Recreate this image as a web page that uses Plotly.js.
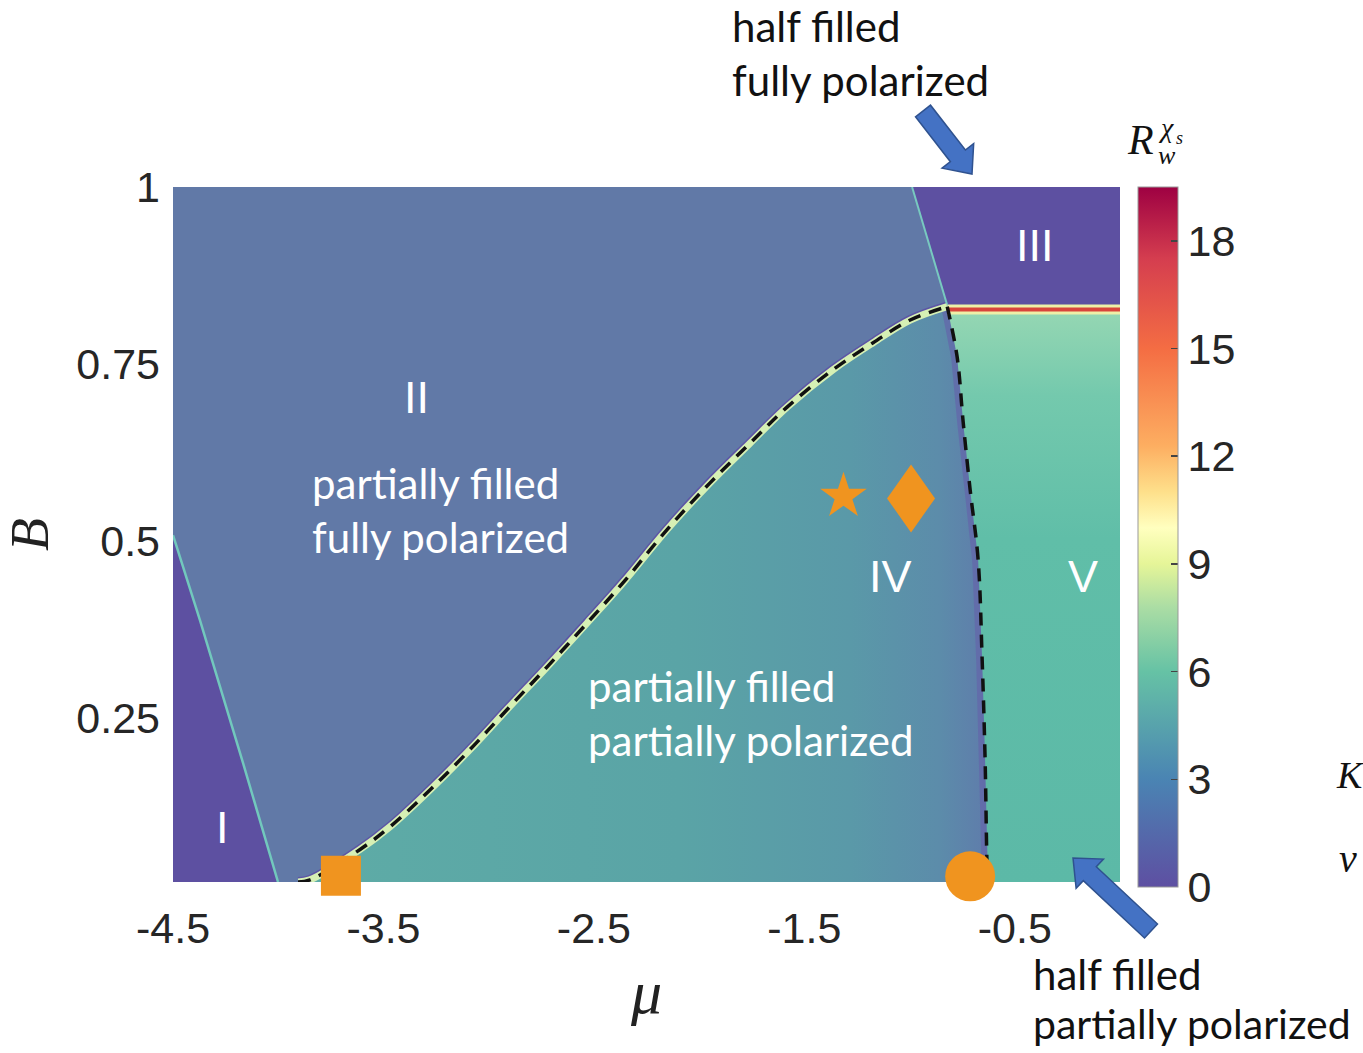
<!DOCTYPE html>
<html><head><meta charset="utf-8">
<script src="https://cdn.plot.ly/plotly-3.0.1.min.js"></script>
<style>html,body{margin:0;padding:0;background:#fff}#chart{width:1363px;height:1053px}</style>
</head><body><div id="chart"></div>
<script>
// ---------------- data ----------------
const xRange = [-4.5, 0];
const yRange = [0.018, 1.0];
const xTickVals = [-4.5, -3.5, -2.5, -1.5, -0.5];
const xTickText = ['-4.5', '-3.5', '-2.5', '-1.5', '-0.5'];
const yTickVals = [0.25, 0.5, 0.75, 1];
const yTickText = ['0.25', '0.5', '0.75', '1'];
const cbTickVals = [0, 3, 6, 9, 12, 15, 18];
const cbMax = 19.5;

// phase boundaries (mu, B)
const muBoundaryI_II = [-4.5, -4.372, -4.167, -4.001];
const bBoundaryI_II  = [0.508, 0.388, 0.186, 0.018];
const muBoundaryII_III = [-0.988, -0.821];
const bBoundaryII_III  = [1.0, 0.833];
const muBoundaryII_IV = [-3.906, -3.849, -3.611, -3.469, -3.279, -3.089, -2.899, -2.722, -2.532, -2.361, -2.152, -1.948, -1.758, -1.582, -1.363, -1.173, -0.997, -0.821];
const bBoundaryII_IV  = [0.018, 0.021, 0.064, 0.096, 0.148, 0.205, 0.266, 0.322, 0.384, 0.441, 0.516, 0.582, 0.638, 0.689, 0.742, 0.780, 0.812, 0.831];
const muBoundaryIV_V = [-0.821, -0.774, -0.745, -0.712, -0.674, -0.655, -0.641, -0.631, -0.627];
const bBoundaryIV_V  = [0.831, 0.760, 0.667, 0.572, 0.473, 0.332, 0.191, 0.035, 0.018];
const bBoundaryIII_V = 0.827;

// special points
const pointSymbols = ['square', 'circle', 'star', 'diamond'];
const pointMu = [-3.702, -0.712, -1.314, -0.993];
const pointB  = [0.027, 0.026, 0.563, 0.560];

// ---------------- styling ----------------
const ORANGE = '#f0941f';
const C_II = '#6179a7';
const C_PURPLE = '#5d50a1';
const SPECTRAL = [
  [0, '#5e4fa2'], [0.154, '#4a84b3'], [0.308, '#66c2a5'], [0.40, '#abdda4'],
  [0.462, '#e6f598'], [0.513, '#ffffbf'], [0.564, '#fee08b'], [0.63, '#fdae61'],
  [0.769, '#f46d43'], [0.897, '#d53e4f'], [1, '#9e0142']
];
const L = 173, R = 1120, T = 187, Bt = 882;
const PW = R - L, PH = Bt - T;
const px = x => (x - L) / PW;
const py = y => (Bt - y) / PH;

const traces = [];
const base = {type:'scatter', mode:'lines', hoverinfo:'skip', showlegend:false};

// Region I
traces.push(Object.assign({}, base, {
  x: muBoundaryI_II.concat([xRange[0]]), y: bBoundaryI_II.concat([yRange[0]]),
  fill:'toself', fillcolor:C_PURPLE, line:{width:0}}));
// Region III
traces.push(Object.assign({}, base, {
  x: muBoundaryII_III.concat([xRange[1], xRange[1]]), y: bBoundaryII_III.concat([bBoundaryIII_V, yRange[1]]),
  fill:'toself', fillcolor:C_PURPLE, line:{width:0}}));
// purple rim along II/IV (upper half stays visible)
traces.push(Object.assign({}, base, {
  x: muBoundaryII_IV, y: bBoundaryII_IV, line:{color:'#5d55a5', width:10, shape:'spline'}}));
// Region IV
traces.push(Object.assign({}, base, {
  x: muBoundaryII_IV.concat(muBoundaryIV_V.slice(1)), y: bBoundaryII_IV.concat(bBoundaryIV_V.slice(1)),
  fill:'toself', line:{width:0},
  fillgradient:{type:'horizontal', start:-3.9, stop:-0.63,
    colorscale:[[0,'#5eaca6'],[0.55,'#5aa4a6'],[0.8,'#5a99a8'],[0.93,'#5c8caa'],[1,'#5f7cab']]}}));
// darker rim left of IV/V
traces.push(Object.assign({}, base, {
  x: muBoundaryIV_V, y: bBoundaryIV_V, line:{color:'#6466aa', width:12}, opacity:0.7}));
// Region V
traces.push(Object.assign({}, base, {
  x: muBoundaryIV_V.concat([xRange[1], xRange[1]]), y: bBoundaryIV_V.concat([yRange[0], bBoundaryIII_V]),
  fill:'toself', line:{width:0},
  fillgradient:{type:'vertical', start:yRange[0], stop:bBoundaryIII_V,
    colorscale:[[0,'#5cb9a7'],[0.6,'#60bea8'],[0.85,'#74c9ad'],[1,'#96d7b3']]}}));
// III/V stripe
const stripeX = [muBoundaryIV_V[0], xRange[1]];
const stripeY = [bBoundaryIII_V, bBoundaryIII_V];
traces.push(Object.assign({}, base, {x: stripeX, y: stripeY, line:{color:'#eef0a8', width:10}}));
traces.push(Object.assign({}, base, {x: stripeX, y: stripeY, line:{color:'#d9443c', width:4}}));
// cyan boundaries
traces.push(Object.assign({}, base, {x: muBoundaryI_II, y: bBoundaryI_II, line:{color:'#72c8bd', width:2.5}}));
traces.push(Object.assign({}, base, {x: muBoundaryII_III, y: bBoundaryII_III, line:{color:'#78c9c0', width:2}}));
// light rim + dashed lines
traces.push(Object.assign({}, base, {x: muBoundaryII_IV, y: bBoundaryII_IV, line:{color:'#d6f0b4', width:7, shape:'spline'}}));
traces.push(Object.assign({}, base, {x: muBoundaryII_IV, y: bBoundaryII_IV, line:{color:'#111', width:3.5, dash:'13px,9px', shape:'spline'}}));
traces.push(Object.assign({}, base, {x: muBoundaryIV_V, y: bBoundaryIV_V, line:{color:'#111', width:3.5, dash:'13px,9px', shape:'spline'}}));
// special points (square, circle, star); diamond drawn as a shape below
const sizes = {square:40, circle:50, star:35};
['square','circle','star'].forEach(s => {
  const i = pointSymbols.indexOf(s);
  traces.push({type:'scatter', mode:'markers', hoverinfo:'skip', showlegend:false, cliponaxis:false,
    x:[pointMu[i]], y:[pointB[i]], marker:{symbol:s, size:sizes[s], color:ORANGE, line:{width:0}}});
});
// colorbar
traces.push({type:'scatter', mode:'markers', hoverinfo:'skip', showlegend:false,
  x:[null], y:[null],
  marker:{color:[0], cmin:0, cmax:cbMax, colorscale:SPECTRAL, showscale:true,
    colorbar:{x:px(1138), xanchor:'left', y:1, yanchor:'top', len:700, lenmode:'pixels',
      thickness:40, thicknessmode:'pixels', outlinewidth:1, outlinecolor:'#999', xpad:0, ypad:0,
      tickmode:'array', tickvals:cbTickVals, ticks:'inside', ticklen:7, tickwidth:1.5, tickcolor:'#444',
      tickfont:{family:'Liberation Sans, Arial, sans-serif', size:43, color:'#262626'}}}});

function blockArrow(tx, ty, hx, hy, sw, hw, hl){
  const dx = hx - tx, dy = hy - ty, len = Math.hypot(dx, dy);
  const ux = dx/len, uy = dy/len, nx = -uy, ny = ux;
  const bx = hx - ux*hl, by = hy - uy*hl;
  const pts = [[tx+nx*sw,ty+ny*sw],[bx+nx*sw,by+ny*sw],[bx+nx*hw,by+ny*hw],[hx,hy],
               [bx-nx*hw,by-ny*hw],[bx-nx*sw,by-ny*sw],[tx-nx*sw,ty-ny*sw]];
  return 'M' + pts.map(p => px(p[0]).toFixed(5) + ',' + py(p[1]).toFixed(5)).join('L') + 'Z';
}

const di = pointSymbols.indexOf('diamond');
const shapes = [
  {type:'path', xref:'paper', yref:'paper', path:blockArrow(923,111,972,174,9.5,20,23),
   fillcolor:'#4472c4', line:{color:'#2f528f', width:1.5}},
  {type:'path', xref:'paper', yref:'paper', path:blockArrow(1151,931,1073,858,9.5,20,23),
   fillcolor:'#4472c4', line:{color:'#2f528f', width:1.5}},
  {type:'path', xref:'x', yref:'y', xsizemode:'pixel', ysizemode:'pixel',
   xanchor:pointMu[di], yanchor:pointB[di], path:'M0,34 L24,0 L0,-34 L-24,0 Z',
   fillcolor:ORANGE, line:{width:0}, layer:'above'}
];

const CAL = 'Lato, Carlito, Calibri, sans-serif';
const HEL = 'Liberation Sans, Arial, sans-serif';
const SER = 'Liberation Serif, Times New Roman, serif';
function txt(text, x, y, opts){
  return Object.assign({text, xref:'paper', yref:'paper', x:px(x), y:py(y), showarrow:false,
    xanchor:'left', yanchor:'middle', font:{family:CAL, size:42, color:'#111'}}, opts||{});
}
const white = {family:CAL, size:42, color:'#ffffff'};
const roman = {family:HEL, size:45, color:'#ffffff'};
const annotations = [
  txt('half filled', 730, 26),
  txt('fully polarized', 730, 80),
  txt('half filled', 1031, 974),
  txt('partially polarized', 1031, 1024, {font:{family:CAL, size:41, color:'#111'}}),
  txt('partially filled', 310, 483, {font:white}),
  txt('fully polarized', 310, 537, {font:white}),
  txt('partially filled', 586, 686, {font:white}),
  txt('partially polarized', 586, 740, {font:white}),
  {text:'I', x:-4.267, y:0.095, xref:'x', yref:'y', showarrow:false, font:roman},
  {text:'II', x:-3.345, y:0.702, xref:'x', yref:'y', showarrow:false, font:roman},
  {text:'III', x:-0.403, y:0.918, xref:'x', yref:'y', showarrow:false, font:roman},
  {text:'IV', x:-1.092, y:0.449, xref:'x', yref:'y', showarrow:false, font:roman},
  {text:'V', x:-0.175, y:0.449, xref:'x', yref:'y', showarrow:false, font:roman},
  // colorbar title R_w^{chi_s}
  txt('<i>R</i>', 1125, 140, {font:{family:SER, size:42, color:'#111'}}),
  txt('<i>χ</i>', 1156, 127, {font:{family:SER, size:28, color:'#111'}}),
  txt('<i>s</i>', 1174, 138, {font:{family:SER, size:18, color:'#111'}}),
  txt('<i>w</i>', 1156, 155, {font:{family:SER, size:26, color:'#111'}}),
  // text at right page edge
  txt('<i>K</i>', 1334, 775, {font:{family:SER, size:38, color:'#111'}}),
  txt('<i>v</i>', 1337, 858, {font:{family:SER, size:40, color:'#111'}})
];

const layout = {
  width:1363, height:1053,
  margin:{l:L, r:1363-R, t:T, b:1053-Bt, pad:0},
  paper_bgcolor:'#ffffff', plot_bgcolor:C_II,
  showlegend:false,
  xaxis:{range:xRange, tickmode:'array', tickvals:xTickVals, ticktext:xTickText,
    showgrid:false, zeroline:false, showline:false, ticks:'', ticklabelstandoff:17,
    tickfont:{family:HEL, size:43, color:'#262626'},
    title:{text:'<i>μ</i>', font:{family:SER, size:62, color:'#222'}, standoff:18}},
  yaxis:{range:yRange, tickmode:'array', tickvals:yTickVals, ticktext:yTickText,
    showgrid:false, zeroline:false, showline:false, ticks:'', ticklabelstandoff:12,
    tickfont:{family:HEL, size:43, color:'#262626'},
    title:{text:'<i>B</i>', font:{family:SER, size:54, color:'#222'}, standoff:16}},
  shapes, annotations
};
Plotly.newPlot('chart', traces, layout, {staticPlot:true, displayModeBar:false});
</script></body></html>
